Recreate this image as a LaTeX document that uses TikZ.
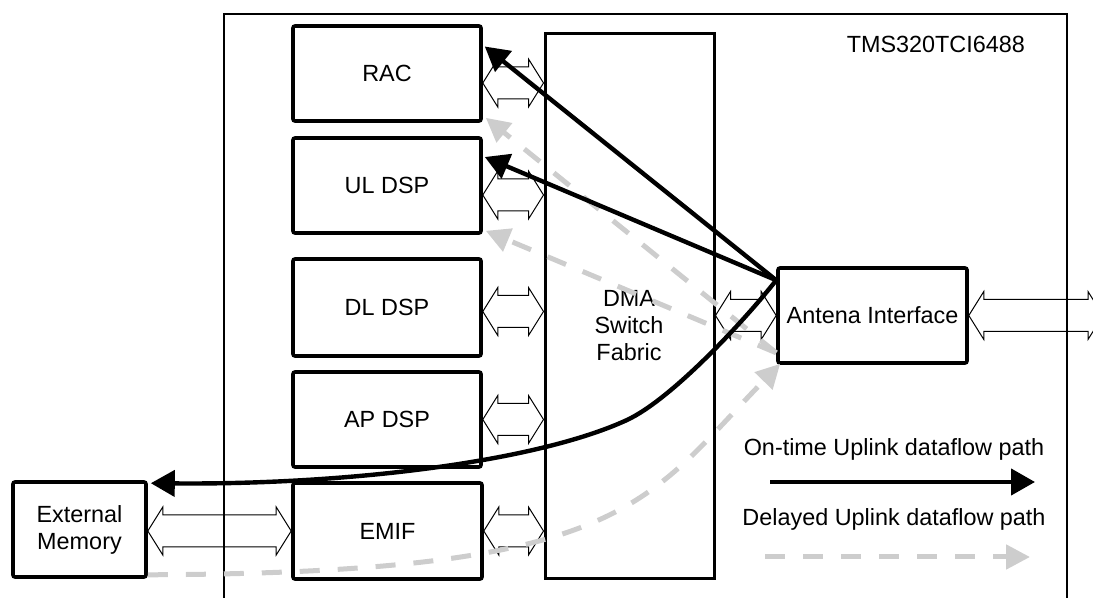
\documentclass[tikz,border=0pt]{standalone}
\usepackage{fontspec}
\setmainfont{Liberation Sans}
\usetikzlibrary{calc,arrows.meta}
\definecolor{dlygray}{RGB}{205,205,205}

% outlined two-headed bus arrow between two points on one level
\newcommand{\busarrow}[2]{%
  \draw[bus] (#1) -- ++(15,-24) -- ++(0,8) -- ($(#2)+(-15,-16)$) -- ++(0,-8) -- (#2)
    -- ++(-15,24) -- ++(0,-8) -- ($(#1)+(15,16)$) -- ++(0,8) -- cycle;}

\begin{document}
\begin{tikzpicture}[x=0.5pt, y=-0.5pt,
    txt/.style={font=\fontsize{11.7}{13.5}\selectfont},
    blk/.style={draw, line width=1.8pt, rounded corners=1pt, inner sep=0pt, txt},
    bus/.style={line width=0.5pt},
    ontime/.style={line width=2.2pt, -{Triangle[length=12pt,width=13pt]}},
    delayed/.style={draw=dlygray, line width=2.5pt, dash pattern=on 10pt off 9pt,
        -{Triangle[length=12pt,width=12pt]}}]
    \useasboundingbox (0,0) rectangle (1093,598);

    % chip outline
    \draw[line width=1.1pt] (224,610) -- (224,14) -- (1067,14) -- (1067,610);
    \node[txt, anchor=base east] (chip) at (1032,53) {TMS320TCI6488};

    % blocks
    \node[blk, minimum width=94pt, minimum height=47.5pt] (rac) at (387,73.5) {RAC};
    \node[blk, minimum width=94pt, minimum height=47.5pt] (uldsp) at (387,185.5) {UL DSP};
    \node[blk, minimum width=94pt, minimum height=48.5pt] (dldsp) at (387,307.5) {DL DSP};
    \node[blk, minimum width=94pt, minimum height=47.5pt] (apdsp) at (387,419.5) {AP DSP};
    \node[blk, minimum width=94.5pt, minimum height=48pt] (emif) at (387.5,531) {EMIF};
    \node[blk, minimum width=66.5pt, minimum height=47.5pt, align=center] (extmem) at (79.5,529.5) {External\\Memory};
    \node[draw, line width=1.5pt, minimum width=84.5pt, minimum height=272.5pt] (dma) at (629.5,306.5) {};
    \node[txt, align=center] (dmatxt) at (629,326) {DMA\\Switch\\Fabric};
    \node[blk, minimum width=94.5pt, minimum height=47.5pt] (antif) at (872.5,315.5) {Antena Interface};

    % buses to the switch fabric
    \foreach \bx/\dy in {rac/9.5, uldsp/9.5, dldsp/4, apdsp/0, emif/0} {
        \coordinate (\bx1) at ($(\bx.east)+(0,\dy)$);
        \coordinate (\bx2) at (dma.west |- \bx1);
        \busarrow{\bx1}{\bx2}
    }
    \coordinate (ant1) at (dma.east |- antif.west);
    \busarrow{ant1}{antif.west}
    \coordinate (ant2) at (1103,315.5);
    \busarrow{antif.east}{ant2}
    \coordinate (ext1) at (extmem.east |- emif.west);
    \busarrow{ext1}{emif.west}

    % delayed uplink
    \coordinate (dlysrc) at ($(antif.south west)+(0,-12)$);
    \draw[delayed] (dlysrc) -- ($(rac.south east)+(3,-5)$);
    \draw[delayed] (dlysrc) -- ($(uldsp.south east)+(3,-4)$);
    \draw[delayed] ($(extmem.south east)+(0,-4)$) .. controls (626,573) and (642,506) .. ($(antif.south west)+(4,-1)$);

    % on-time uplink
    \coordinate (ontsrc) at ($(antif.north west)+(0,14)$);
    \draw[ontime] (ontsrc) -- ($(rac.east)+(2,-27)$);
    \draw[ontime] (ontsrc) -- ($(uldsp.east)+(2,-28.5)$);
    \draw[ontime] (ontsrc) .. controls (745,320) and (672,399) .. (627,420)
        .. controls (536,462) and (346,485) .. ($(extmem.north east)+(3,3)$);

    % legend
    \node[txt, anchor=base] (lgon) at (894,456) {On-time Uplink dataflow path};
    \node[txt, anchor=base] (lgdly) at (894,526) {Delayed Uplink dataflow path};
    \coordinate (lgon1) at (770,482);
    \coordinate (lgon2) at (1035,482);
    \draw[ontime] (lgon1) -- (lgon2);
    \coordinate (lgdly1) at (765,557);
    \coordinate (lgdly2) at (1030,557);
    \draw[delayed] (lgdly1) -- (lgdly2);
\end{tikzpicture}
\end{document}
